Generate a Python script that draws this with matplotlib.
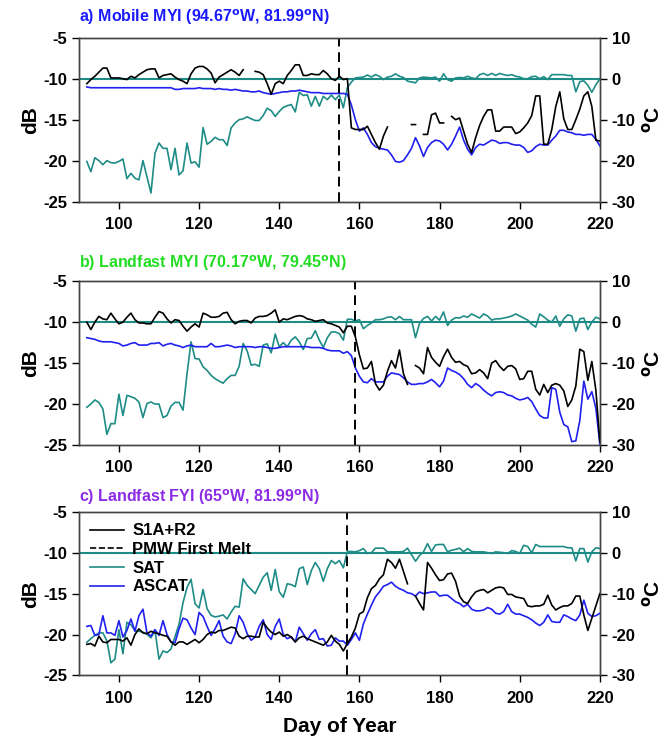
"""
Backscatter (S1A+R2, ASCAT) and surface air temperature at three ice sites,
spring to summer melt onset.
"""

import numpy as np
import matplotlib.pyplot as plt
from matplotlib.lines import Line2D

nan = np.nan
DAYS = np.arange(92, 221)

TEAL = '#1e8c86'
BLUE = '#2020f0'

# ---- a) Mobile MYI ----
a_s1 = [-10.6, -10.1, -9.7, -9.2, -8.7, -8.7, -9.9, -9.9, -9.9, -10.0,
        -10.1, -9.7, -9.9, -9.5, -9.2, -8.9, -8.8, -8.8, -9.9, -9.6,
        -9.5, -9.4, -9.8, -10.1, -10.3, -10.6, -9.4, -8.7, -8.5, -8.5,
        -8.8, -9.3, -10.5, -9.8, -9.5, -9.2, -8.9, -9.2, -9.6, -8.9,
        nan, nan, -9.1, -9.2, -9.5, -10.6, -11.9, -10.6, -10.3, -10.6,
        -9.6, -9.0, -8.3, -8.3, -9.6, -9.6, -9.4, -9.5, -9.5, -9.0,
        -9.4, -10.0, -10.2, -9.7, -10.1, -10.0, -16.0, -16.2, -16.2, -16.2,
        -15.8, -16.8, -17.8, -18.6, -17.0, -15.9, nan, nan, nan, nan,
        nan, -15.6, -15.6, nan, -16.8, -16.8, -14.4, -14.2, -15.4, -15.4,
        nan, -14.6, -15.0, -14.8, -16.4, -18.0, -19.0, -17.2, -15.7, -14.6,
        -13.8, -13.8, -16.4, -16.4, -15.9, -15.9, -15.9, -16.7, -16.5, -16.0,
        -15.4, -14.5, -12.1, -12.1, -18.0, -18.0, -16.2, -13.4, -11.6, -14.9,
        -16.2, -16.2, -15.0, -13.7, -12.1, -11.6, -13.4, -17.5, -17.6]
a_ascat = [-11.0, -11.1, -11.1, -11.1, -11.1, -11.1, -11.1, -11.1, -11.1, -11.1,
           -11.1, -11.1, -11.1, -11.1, -11.1, -11.1, -11.1, -11.1, -11.1, -11.1,
           -11.1, -11.1, -11.3, -11.3, -11.2, -11.2, -11.2, -11.2, -11.1, -11.2,
           -11.2, -11.2, -11.3, -11.2, -11.3, -11.3, -11.4, -11.3, -11.4, -11.5,
           -11.5, -11.6, -11.6, -11.5, -11.7, -11.8, -11.9, -11.8, -11.7, -11.6,
           -11.6, -11.5, -11.5, -11.4, -11.5, -11.6, -11.7, -11.7, -11.7, -11.8,
           -11.8, -11.8, -11.8, -11.8, -11.8, -11.9, -13.2, -15.0, -16.4, -16.0,
           -16.8, -17.8, -18.3, -18.5, -18.6, -18.7, -19.3, -20.1, -20.2, -20.0,
           -19.3, -18.5, -17.2, -18.2, -19.5, -18.4, -17.8, -17.5, -17.6, -18.0,
           -18.7, -18.0, -17.0, -15.9, -17.5, -18.6, -19.3, -18.4, -18.0, -18.1,
           -17.8, -17.5, -17.6, -17.9, -17.8, -17.8, -18.0, -18.1, -18.1, -18.4,
           -19.0, -18.8, -18.3, -18.0, -18.1, -18.1, -17.5, -17.0, -16.3, -16.3,
           -16.5, -16.6, -16.8, -16.8, -16.9, -16.8, -16.8, -17.4, -18.2]
a_sat = [-20.2, -22.7, -19.3, -20.0, -21.0, -20.0, -20.5, -20.6, -20.2, -19.6,
         -24.4, -23.1, -24.3, -24.7, -20.0, -23.9, -27.9, -18.2, -15.7, -17.0,
         -17.0, -22.2, -17.0, -23.5, -22.5, -15.7, -20.6, -20.3, -21.6, -11.9,
         -16.0, -15.3, -14.3, -14.9, -14.9, -16.3, -12.0, -10.8, -10.0, -9.8,
         -9.3, -9.8, -10.2, -10.2, -9.0, -7.2, -7.8, -9.2, -8.0, -7.0,
         -6.6, -6.3, -8.1, -3.3, -4.1, -3.9, -6.7, -4.3, -6.7, -4.3,
         -5.1, -4.0, -5.1, -4.0, -7.1, -2.2, -0.8, 0.2, 0.3, 0.4,
         0.9, 0.4, 1.0, 0.6, -0.2, 0.4, 0.6, 1.2, 0.6, 0.3,
         -0.6, -0.8, -1.0, 0.2, 0.4, 0.3, 0.2, 0.4, -0.6, 1.2,
         -0.2, -0.6, 0.2, 0.3, 0.2, 0.6, 0.2, 0.0, 1.0, 1.3,
         0.8, 1.3, 0.8, 1.3, 1.0, 0.8, 1.0, 0.6, 0.4, 0.0,
         0.0, 0.5, 0.6, 0.0, 0.5, -0.2, 1.0, 1.0, 1.0, 1.0,
         0.8, 0.8, -3.2, -0.7, -0.5, -1.6, -3.3, -1.5, 0.0]

# ---- b) Landfast MYI ----
b_s1 = [-10.0, -10.9, -10.0, -9.3, -9.6, -9.7, -8.9, -9.6, -10.2, -10.0,
        -9.4, -8.9, -9.7, -10.1, -10.1, -10.2, -10.2, -9.4, -8.7, -8.9,
        -9.6, -10.1, -9.7, -9.8, -10.5, -11.1, -10.6, -10.2, -10.6, -8.9,
        -9.1, -9.4, -9.4, -9.3, -8.9, -8.8, -9.7, -10.2, -9.9, -9.8,
        -9.8, -10.1, -9.5, -9.3, -9.3, -9.2, -8.9, -8.5, -10.0, -9.6,
        -9.7, -9.5, -9.3, -9.2, -9.3, -9.6, -9.7, -9.9, -9.8, -9.7,
        -10.1, -10.2, -10.4, -10.6, -11.3, -10.5, -10.5, -11.8, -14.0, -15.7,
        -15.6, -14.8, -17.5, -18.3, -17.7, -16.0, -14.7, -15.6, -13.4, -16.3,
        -17.6, nan, -15.3, -15.6, -16.3, -13.1, -14.3, -14.9, -15.4, -14.2,
        -13.3, -14.3, -14.9, -14.8, -15.2, -15.4, -16.3, -16.2, -15.8, -16.2,
        -16.9, -15.0, -14.7, -15.4, -15.9, -15.4, -15.3, -15.7, -17.0, -16.9,
        -16.0, -16.0, -18.2, -18.9, -17.6, -18.6, -17.7, -17.5, -17.7, -18.4,
        -20.3, -19.5, -17.8, -13.3, -13.6, -17.1, -14.8, -18.3, -24.6]
b_ascat = [-11.9, -12.0, -12.1, -12.3, -12.4, -12.4, -12.4, -12.5, -12.6, -12.9,
           -12.8, -12.6, -12.5, -12.8, -12.8, -12.8, -12.6, -12.6, -12.5, -12.9,
           -12.7, -12.6, -12.8, -12.9, -13.1, -12.9, -12.8, -13.0, -13.0, -13.0,
           -13.0, -12.6, -13.0, -13.0, -12.9, -12.8, -12.9, -13.1, -13.0, -13.0,
           -13.0, -13.0, -13.1, -13.0, -13.0, -13.1, -13.2, -13.2, -13.1, -13.0,
           -13.0, -13.0, -13.0, -13.0, -13.0, -13.0, -13.1, -13.1, -13.1, -13.2,
           -13.4, -13.5, -13.5, -13.5, -13.8, -13.6, -14.1, -15.6, -16.6, -17.3,
           -17.4, -16.9, -17.3, -17.3, -17.3, -16.6, -16.2, -16.3, -16.4, -16.8,
           -17.3, -17.6, -17.6, -17.5, -17.5, -17.3, -17.0, -17.4, -17.9, -17.2,
           -15.6, -15.9, -16.1, -16.4, -16.9, -17.6, -18.0, -17.5, -17.8, -18.3,
           -18.7, -19.0, -18.6, -18.5, -18.6, -18.9, -19.0, -19.3, -19.5, -19.4,
           -19.2, -19.7, -20.6, -21.4, -21.7, -21.7, -18.0, -18.2, -21.0, -22.5,
           -22.8, -24.6, -24.5, -22.0, -17.2, -19.4, -18.5, -20.5, -24.9]
b_sat = [-20.8, -20.0, -19.0, -19.6, -21.2, -27.4, -24.8, -24.8, -17.6, -22.8,
         -17.9, -18.2, -18.6, -19.5, -23.3, -19.9, -19.5, -20.0, -20.0, -23.3,
         -22.8, -20.5, -19.6, -19.6, -21.5, -12.6, -4.8, -8.9, -9.0, -10.9,
         -11.8, -13.0, -13.8, -14.4, -14.9, -13.8, -13.0, -13.0, -10.8, -5.2,
         -7.0, -10.5, -10.3, -10.8, -5.6, -5.3, -7.5, -2.9, -6.0, -5.0,
         -6.0, -4.4, -3.6, -4.8, -6.7, -4.0, -3.9, -2.1, -4.4, -6.2,
         -3.8, -2.4, -2.4, -2.8, -4.4, 0.7, 0.7, 0.3, 0.6, -1.6,
         -0.8, -0.2, 0.6, 0.6, 0.8, 1.2, 1.3, 0.6, 1.4, 0.6,
         0.6, 0.6, -3.8, -0.3, 0.9, 1.4, 0.3, 1.4, 0.5, 2.5,
         -0.8, 0.5, 1.1, 1.0, 1.5, 1.2, 2.0, 1.5, 1.0, 2.0,
         1.5, 0.5, 0.8, 0.8, 1.0, 1.2, 1.5, 2.0, 1.5, 1.0,
         0.5, -0.5, -1.2, 2.0, 1.3, 0.5, 0.0, 1.5, -1.0, 0.8,
         1.8, 1.5, -2.2, 0.8, 1.0, -1.8, 0.0, 1.2, 0.8]

# ---- c) Landfast FYI ----
c_s1 = [-21.2, -21.1, -21.4, -20.2, -20.9, -21.0, -20.6, -20.6, -20.6, -20.8,
        -20.4, -21.3, -20.0, -19.3, -19.8, -19.9, -19.6, -19.8, -19.9, -20.1,
        -20.2, -20.9, -21.3, -20.9, -20.9, -21.2, -20.9, -20.6, -21.0, -20.6,
        -20.0, -19.7, -19.8, -19.5, -19.5, -19.3, -19.1, -19.2, -20.2, -20.5,
        -20.2, -20.2, -20.3, -20.3, -18.5, -19.2, -19.7, -20.0, -19.7, -20.2,
        -20.0, -20.3, -20.9, -20.4, -20.2, -20.5, -20.7, -20.9, -21.1, -21.3,
        -20.9, -20.1, -20.8, -21.2, -22.0, -21.1, -20.3, -19.2, -17.5, -17.2,
        -15.5, -14.4, -14.0, -13.2, -12.7, -10.8, -11.2, -11.9, -10.8, -12.3,
        -13.8, nan, -15.3, -16.2, -17.0, -11.2, -11.9, -12.7, -13.4, -13.3,
        -12.6, -12.5, -13.5, -15.3, -16.0, -16.2, -15.4, -14.8, -14.6, -14.5,
        -14.9, -14.6, -14.3, -14.2, -14.3, -15.1, -15.1, -15.4, -15.5, -15.6,
        -16.5, -16.6, -16.5, -16.5, -16.3, -15.2, -16.4, -17.0, -16.7, -16.5,
        -16.5, -16.2, -15.3, -15.3, -17.6, -19.5, -18.0, -16.5, -15.0]
c_ascat = [-19.0, -18.9, -20.1, -20.0, -17.7, -19.8, -19.8, -20.1, -18.3, -20.3,
           -19.5, -18.1, -19.6, -17.7, -16.9, -19.8, -20.2, -19.4, -20.1, -18.3,
           -20.0, -20.9, -21.0, -19.3, -18.0, -18.2, -19.2, -20.0, -17.3, -17.8,
           -19.0, -20.1, -19.3, -18.3, -20.2, -20.9, -21.1, -19.9, -17.7, -18.5,
           -19.9, -20.7, -20.3, -19.0, -18.2, -20.0, -20.6, -19.0, -18.1, -20.0,
           -20.5, -20.3, -20.9, -19.1, -19.9, -20.7, -19.9, -19.4, -20.6, -20.5,
           -21.4, -21.3, -20.4, -20.8, -20.8, -21.3, -20.6, -19.8, -20.7, -18.7,
           -17.5, -16.4, -15.4, -14.8, -14.1, -13.9, -13.6, -14.1, -14.4, -14.6,
           -14.9, -15.0, -15.3, -14.8, -15.0, -14.9, -14.8, -14.8, -15.3, -15.2,
           -15.2, -15.6, -16.0, -16.2, -16.6, -16.3, -16.9, -17.1, -17.1, -17.0,
           -16.7, -16.9, -17.4, -17.5, -17.2, -16.3, -17.2, -17.5, -17.5, -17.7,
           -17.9, -18.2, -18.6, -18.9, -18.5, -17.6, -18.4, -18.5, -18.5, -17.6,
           -17.8, -18.1, -18.3, -17.6, -15.8, -17.4, -17.8, -17.7, -17.4]
c_sat = [-21.9, -21.0, -20.2, -19.6, -19.6, -21.5, -26.9, -26.0, -18.8, -24.7,
         -17.0, -17.6, -19.0, -19.2, -19.4, -19.9, -20.8, -19.0, -26.0, -24.0,
         -24.4, -23.5, -20.5, -17.5, -12.2, -8.5, -6.5, -12.5, -13.5, -9.0,
         -13.7, -15.3, -15.7, -15.5, -15.2, -16.2, -14.5, -13.1, -13.3, -6.4,
         -8.0, -9.0, -10.0, -8.0, -6.0, -4.9, -9.2, -4.1, -9.5, -10.9,
         -7.6, -7.8, -8.3, -3.9, -3.5, -7.8, -4.4, -2.4, -3.9, -7.0,
         -3.9, -1.9, -2.7, -1.9, -3.7, 0.3, 0.3, 0.2, 0.5, 1.0,
         -0.2, 0.0, 1.1, 1.1, 1.1, 0.2, 0.2, 0.2, 0.2, 0.3,
         1.1, -0.5, -2.1, -0.7, 0.2, 2.2, 0.3, 1.9, 2.0, 2.0,
         0.2, 0.6, 0.8, 1.1, 0.2, 1.0, 0.3, 0.2, 0.2, 0.2,
         0.0, -0.2, 0.2, 0.1, 0.0, -0.2, 0.5, 0.3, -0.2, 1.8,
         1.5, 0.0, 2.0, 1.5, 1.5, 1.5, 1.5, 1.5, 1.5, 1.5,
         1.2, 1.2, -2.0, 1.0, 1.0, -2.3, 0.2, 1.2, 1.0]

panels = [
    ('a) Mobile MYI (94.67$^{\\mathrm{o}}$W, 81.99$^{\\mathrm{o}}$N)', '#1a1aff',
     a_s1, a_ascat, a_sat, 155, 0.728, 1.128),
    ('b) Landfast MYI (70.17$^{\\mathrm{o}}$W, 79.45$^{\\mathrm{o}}$N)', '#22dd22',
     b_s1, b_ascat, b_sat, 159, 0.3995, 1.11),
    ('c) Landfast FYI (65$^{\\mathrm{o}}$W, 81.99$^{\\mathrm{o}}$N)', '#8c2be6',
     c_s1, c_ascat, c_sat, 157, 0.0884, 1.09),
]

plt.rcParams['font.family'] = ['Liberation Sans', 'DejaVu Sans']
plt.rcParams['font.weight'] = 'bold'
plt.rcParams['mathtext.default'] = 'bf'
plt.rcParams['axes.unicode_minus'] = False

fig = plt.figure(figsize=(6.68, 7.41), dpi=100)

for title, tcolor, s1, ascat, sat, melt_day, bottom, ty in panels:
    ax = fig.add_axes([0.118, bottom, 0.780, 0.221])
    tw = ax.twinx()
    ax.set_zorder(tw.get_zorder() + 1)
    ax.patch.set_visible(False)

    tw.plot(DAYS, sat, color=TEAL, lw=1.2)
    tw.axhline(0, color=TEAL, lw=1.5)
    tw.set_ylim(-30, 10)
    tw.set_yticks([-30, -20, -10, 0, 10])
    tw.set_ylabel('$^{\\mathrm{o}}$C', fontsize=15, fontweight='bold', rotation=90, labelpad=4)

    ax.plot(DAYS, ascat, color=BLUE, lw=1.2)
    ax.plot(DAYS, s1, color='black', lw=1.2)
    ax.axvline(melt_day, color='black', lw=1.4, ls=(0, (5, 3)))

    ax.set_xlim(90, 220)
    ax.set_ylim(-25, -5)
    ax.set_xticks(range(100, 221, 20))
    ax.set_yticks([-25, -20, -15, -10, -5])
    ax.set_ylabel('dB', fontsize=15, fontweight='bold', labelpad=2)

    for a in (ax, tw):
        a.tick_params(direction='out', length=5, width=1, labelsize=12)
        for sp in a.spines.values():
            sp.set_color('#444444')
            sp.set_linewidth(1.0)
    ax.tick_params(axis='x', pad=6)

    ax.text(0.0, ty, title, transform=ax.transAxes, ha='left', va='center',
            fontsize=11.5, fontweight='bold', color=tcolor)

    if bottom < 0.2:
        ax.set_xlabel('Day of Year', fontsize=15, fontweight='bold', labelpad=8)
        handles = [Line2D([], [], color='black', lw=1.2),
                   Line2D([], [], color='black', lw=1.2, ls='--'),
                   Line2D([], [], color=TEAL, lw=1.2),
                   Line2D([], [], color=BLUE, lw=1.2)]
        ax.legend(handles, ['S1A+R2', 'PMW First Melt', 'SAT', 'ASCAT'],
                  loc='upper left', frameon=False, fontsize=12,
                  handlelength=2.0, handletextpad=0.5,
                  labelspacing=0.22, borderaxespad=0.3)

fig.savefig('out.png', dpi=100)
